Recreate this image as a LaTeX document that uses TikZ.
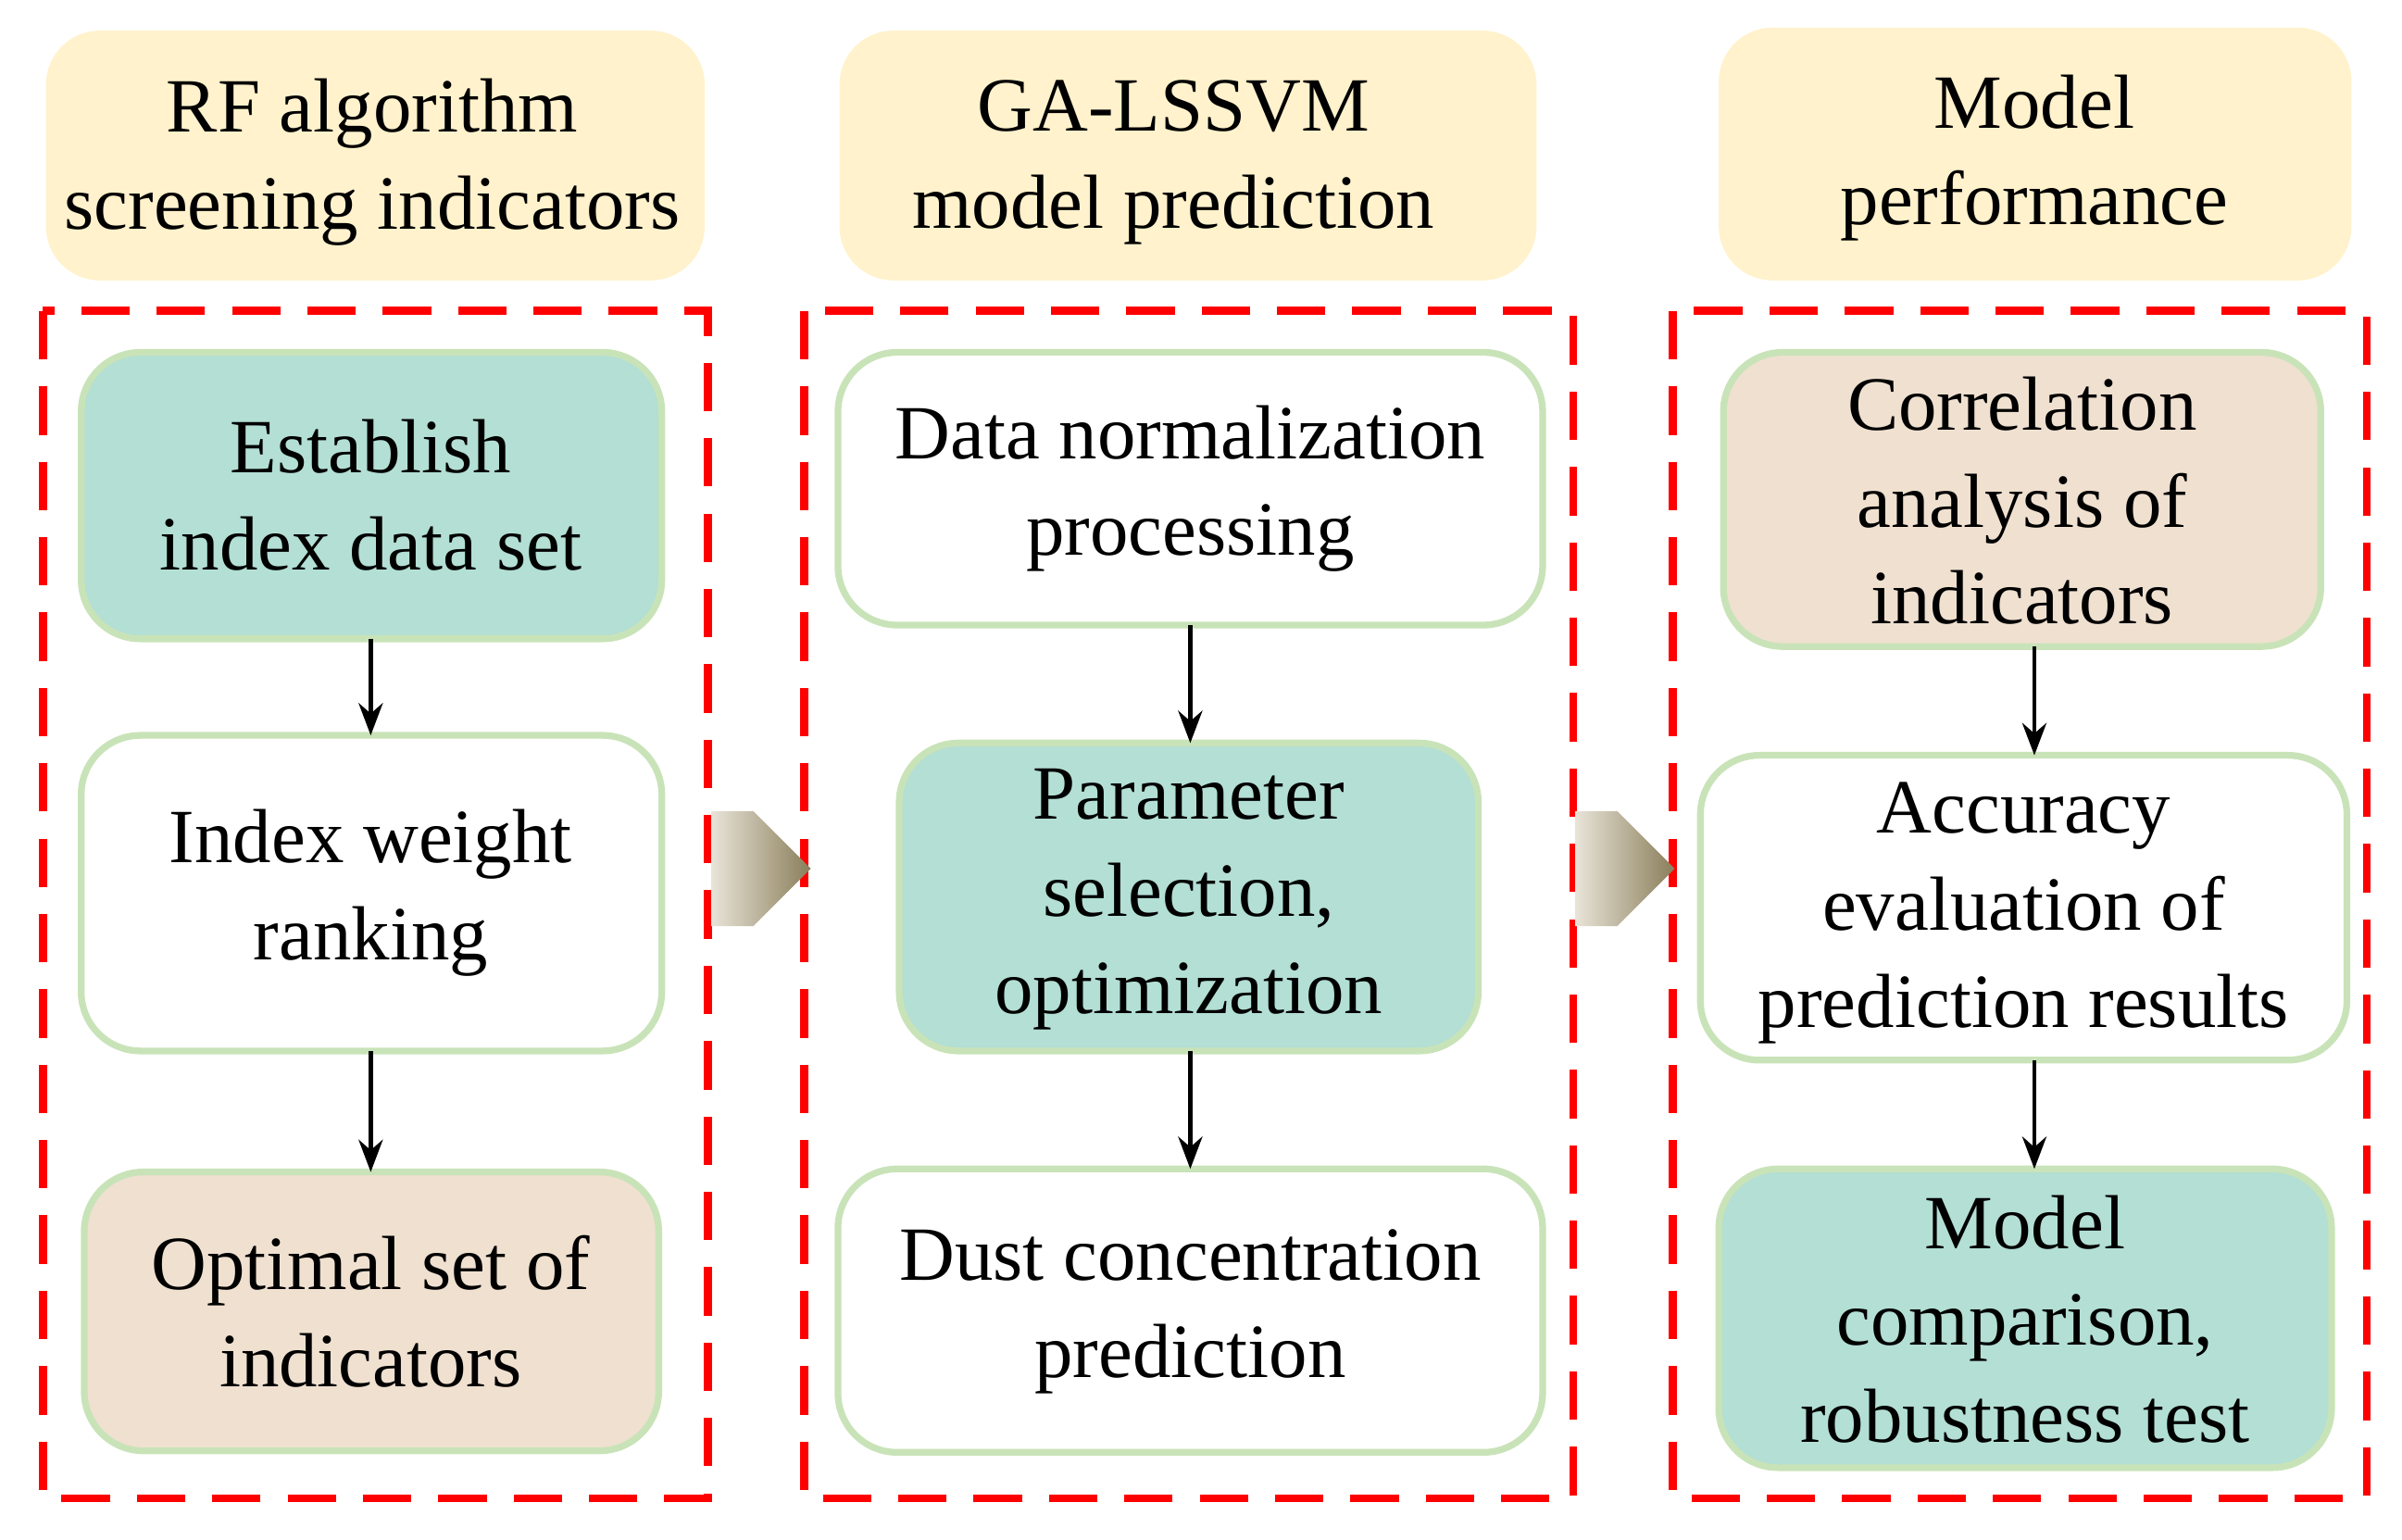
\documentclass[tikz,border=0pt]{standalone}
\usepackage{fontspec}
\setmainfont{Liberation Serif}
\usetikzlibrary{shapes.arrows,arrows.meta}
\definecolor{hdr}{HTML}{FFF2CC}
\definecolor{teal}{HTML}{B3DFD4}
\definecolor{beige}{HTML}{EFE0D0}
\definecolor{bord}{HTML}{C9E3B8}
\definecolor{arrA}{HTML}{E8E4D8}
\definecolor{arrB}{HTML}{8A7E5A}
\tikzset{
 txt/.style={font=\fontsize{28.5}{36}\selectfont, align=center},
 hdrbox/.style={fill=hdr, draw=none, rounded corners=20pt},
 box/.style={draw=bord, line width=2.5pt, rounded corners=22pt},
 redframe/.style={draw=red, line width=3pt, dash pattern=on 18pt off 10pt},
 arr/.style={-{Stealth[length=12pt,width=9pt]}, line width=1.5pt},
 blk/.style={single arrow, single arrow head extend=0pt, minimum height=1.3cm, minimum width=1.5cm, inner sep=0pt, left color=arrA, right color=arrB, draw=none}
}
\begin{document}
\begin{tikzpicture}[x=0.02cm,y=-0.02cm]
\useasboundingbox (0,0) rectangle (1568,1005);
% headers
\draw[hdrbox] (30,20) rectangle (460,183);
\node[txt] (h1) at (243,106) {RF algorithm\\screening indicators};
\draw[hdrbox] (548,20) rectangle (1003,183);
\node[txt] (h2) at (766,106) {GA-LSSVM\\model prediction};
\draw[hdrbox] (1122,18) rectangle (1535,183);
\node[txt] (h3) at (1328,103) {Model\\performance};
% dashed frames
\draw[redframe] (28,203) rectangle (462,978);
\draw[redframe] (525,203) rectangle (1027,978);
\draw[redframe] (1092,203) rectangle (1545,978);
% left column
\draw[box,fill=teal] (53,230) rectangle (432,417);
\node[txt] (a1) at (242,323) {Establish\\index data set};
\draw[box,fill=white] (53,480) rectangle (432,686);
\node[txt] (a2) at (242,583) {Index weight\\ranking};
\draw[box,fill=beige] (55,765) rectangle (430,947);
\node[txt] (a3) at (242,856) {Optimal set of\\indicators};
% middle column
\draw[box,fill=white] (547,230) rectangle (1007,408);
\node[txt] (b1) at (777,319) {Data normalization\\processing};
\draw[box,fill=teal] (587,485) rectangle (965,686);
\node[txt] (b2) at (776,587) {Parameter\\selection,\\optimization};
\draw[box,fill=white] (547,763) rectangle (1007,948);
\node[txt] (b3) at (777,856) {Dust concentration\\prediction};
% right column
\draw[box,fill=beige] (1125,230) rectangle (1515,422);
\node[txt] (c1) at (1320,327) {Correlation\\analysis of\\indicators};
\draw[box,fill=white] (1110,493) rectangle (1532,692);
\node[txt] (c2) at (1321,596) {Accuracy\\evaluation of\\prediction results};
\draw[box,fill=teal] (1122,763) rectangle (1522,958);
\node[txt] (c3) at (1322,861) {Model\\comparison,\\robustness test};
% connectors
\coordinate (a1s) at (242,417); \coordinate (a2t) at (242,480);
\coordinate (a2s) at (242,686); \coordinate (a3t) at (242,765);
\coordinate (b1s) at (777,408); \coordinate (b2t) at (777,485);
\coordinate (b2s) at (777,686); \coordinate (b3t) at (777,763);
\coordinate (c1s) at (1328,422); \coordinate (c2t) at (1328,493);
\coordinate (c2s) at (1328,692); \coordinate (c3t) at (1328,763);
\draw[arr] (a1s) -- (a2t);
\draw[arr] (a2s) -- (a3t);
\draw[arr] (b1s) -- (b2t);
\draw[arr] (b2s) -- (b3t);
\draw[arr] (c1s) -- (c2t);
\draw[arr] (c2s) -- (c3t);
% block arrows
\node[blk] (k1) at (478,567) {};
\node[blk] (k2) at (1042,567) {};
\end{tikzpicture}
\end{document}
